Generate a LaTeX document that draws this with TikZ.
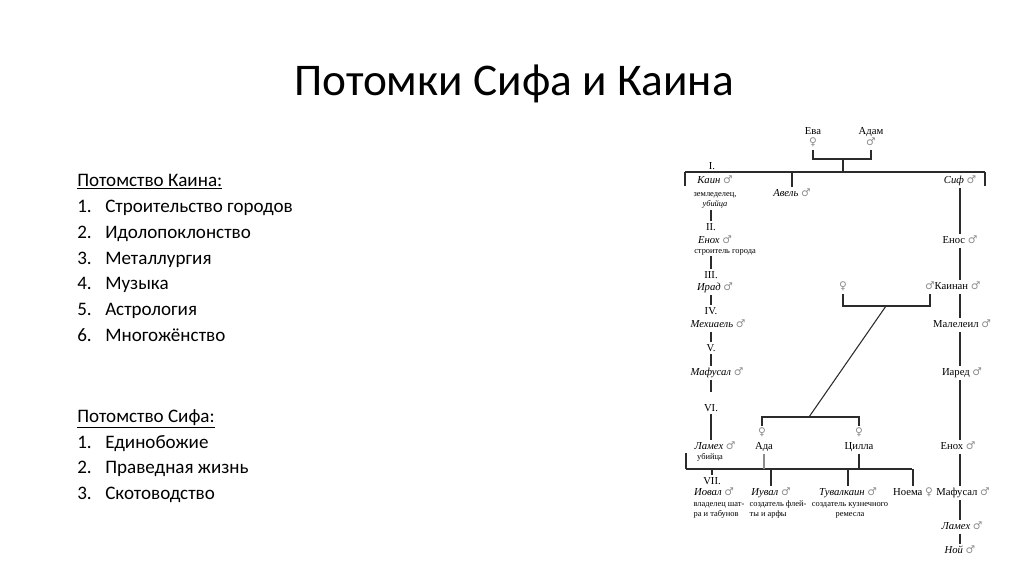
\documentclass[tikz,border=0pt]{standalone}
\usepackage{fontspec}
\setmainfont{Carlito}
\newfontfamily\treefont{Liberation Serif}
\newfontfamily\signfont{DejaVu Sans}
\usetikzlibrary{positioning}
\definecolor{linegray}{HTML}{2B2B2B}
\definecolor{signgray}{HTML}{8C8C8C}
\newcommand{\male}{{\signfont\color{signgray}♂}}
\newcommand{\female}{{\signfont\color{signgray}♀}}
\newcommand{\num}[1]{\makebox[21pt][l]{#1}}

\begin{document}
\begin{tikzpicture}[
  x=0.75pt, y=-0.75pt,
  title/.style={font=\fontsize{34}{40}\selectfont, anchor=base, inner sep=0pt},
  listline/.style={font=\fontsize{14.3}{17}\selectfont, anchor=base west, inner sep=0pt},
  person/.style={font=\treefont\fontsize{8}{9}\selectfont, inner sep=1pt,
                 text height=6pt, text depth=2pt},
  iperson/.style={person, font=\treefont\itshape\fontsize{8}{9}\selectfont},
  note/.style={font=\treefont\fontsize{6.3}{7.5}\selectfont, inner sep=0.5pt, align=center},
  gen/.style={font=\treefont\fontsize{8}{9}\selectfont, inner sep=1pt,
              text height=6pt, text depth=1pt},
  link/.style={draw=linegray, line width=0.8pt},
  tick/.style={draw=linegray, line width=1.6pt},
]
  \useasboundingbox (0,0) rectangle (1024,574);

  \node[title] (title) at (514,96) {Потомки Сифа и Каина};

  % left column: two lists
  \node[listline] (kainhead) at (77,186) {\underline{Потомство Каина:}};
  \node[listline] (kain1) at (77,212) {\num{1.}Строительство городов};
  \node[listline] (kain2) at (77,238) {\num{2.}Идолопоклонство};
  \node[listline] (kain3) at (77,264) {\num{3.}Металлургия};
  \node[listline] (kain4) at (77,289) {\num{4.}Музыка};
  \node[listline] (kain5) at (77,315) {\num{5.}Астрология};
  \node[listline] (kain6) at (77,341) {\num{6.}Многожёнство};

  \node[listline] (sifhead) at (77,422) {\underline{Потомство Сифа:}};
  \node[listline] (sif1) at (77,448) {\num{1.}Единобожие};
  \node[listline] (sif2) at (77,473) {\num{2.}Праведная жизнь};
  \node[listline] (sif3) at (77,499) {\num{3.}Скотоводство};

  % parents
  \node[person] (eva)      at (813,132) {Ева};
  \node[person] (evasign)  at (813,143) {\female};
  \node[person] (adam)     at (871,132) {Адам};
  \node[person] (adamsign) at (871,143) {\male};
  \coordinate (parents) at (843,159);
  \coordinate (kids)    at (843,172);
  \coordinate (kidsL)   at (685,172);
  \coordinate (kidsR)   at (985,172);
  \coordinate (kidsLend) at (685,186);
  \coordinate (kidsRend) at (985,186);
  \draw[link] (evasign.south) |- (parents) -| (adamsign.south);
  \draw[link] (parents) -- (kids);
  \draw[link] (kidsL) -- (kidsR);
  \draw[tick] (kidsL) -- (kidsLend);
  \draw[tick] (kidsR) -- (kidsRend);

  % first generation
  \node[gen] (g1) at (712,166) {I.};
  \node[iperson] (cain) at (715,181) {Каин \male};
  \node[note, anchor=north] (cainnote) at (715,189) {\strut земледелец,\\\textit{убийца}};
  \node[iperson] (abel) at (792,194) {Авель \male};
  \draw[link] (abel.north |- kids) -- (abel.north);
  \node[iperson] (sif) at (960,181) {Сиф \male};

  % line of Cain
  \node[gen] (g2) at (711,227) {II.};
  \draw[link] (g2.north |- cainnote.south) -- (g2.north);
  \node[iperson] (enoch) at (715,241) {Енох \male};
  \node[note] (enochnote) at (725,252) {строитель города};
  \node[gen] (g3) at (711,275) {III.};
  \draw[link] (g3.north |- enochnote.south) -- (g3.north);
  \node[iperson] (irad) at (715,288) {Ирад \male};
  \node[gen] (g4) at (711,311) {IV.};
  \draw[link] (g4.north |- irad.south) -- (g4.north);
  \node[iperson] (mehujael) at (718,325) {Мехиаель \male};
  \node[gen] (g5) at (711,348) {V.};
  \draw[link] (g5.north |- mehujael.south) -- (g5.north);
  \node[iperson] (methusael) at (717,373) {Мафусал \male};
  \draw[link] (g5.south) -- (g5.south |- methusael.north);
  \node[gen] (g6) at (711,408) {VI.};
  \draw[link, shorten >=7pt] (g6.north |- methusael.south) -- (g6.north);
  \node[iperson] (lamech) at (715,447) {Ламех \male};
  \draw[link] (g6.south) -- (g6.south |- lamech.north);
  \node[note] (lamechnote) at (710,457) {убийца};

  % line of Sif
  \node[person] (enos) at (960,241) {Енос \male};
  \draw[link] (sif.south) -- (sif.south |- enos.north);
  \node[person] (kenansign) at (930,287) {\male};
  \node[person, anchor=west] (kenan) at (933,287) {Каинан \male};
  \draw[link] (sif.south |- enos.south) -- (sif.south |- kenan.north);
  \node[person] (mahalalel) at (962,325) {Малелеил \male};
  \draw[link] (sif.south |- kenan.south) -- (sif.south |- mahalalel.north);
  \node[person] (jared) at (962,373) {Иаред \male};
  \draw[link] (sif.south |- mahalalel.south) -- (sif.south |- jared.north);
  \node[person] (enochs) at (958,447) {Енох \male};
  \draw[link] (sif.south |- jared.south) -- (sif.south |- enochs.north);
  \node[person] (methuselah) at (963,493) {Мафусал \male};
  \draw[link] (sif.south |- enochs.south) -- (sif.south |- methuselah.north);
  \node[iperson] (lamechs) at (962,527) {Ламех \male};
  \draw[link] (sif.south |- methuselah.south) -- (sif.south |- lamechs.north);
  \node[iperson] (noah) at (960,551) {Ной \male};
  \draw[link] (sif.south |- lamechs.south) -- (sif.south |- noah.north);

  % wives
  \node[person] (wifesign) at (843,287) {\female};
  \coordinate (wed)   at (886,306);
  \coordinate (wives) at (809,417);
  \draw[link] (wifesign.south) |- (wed) -| (kenansign.south);
  \draw[link] (wed) -- (wives);
  \node[person] (adasign)    at (762,433) {\female};
  \node[person] (zillahsign) at (859,433) {\female};
  \draw[link] (adasign.north) |- (wives) -| (zillahsign.north);
  \node[person] (ada)    at (764,447) {Ада};
  \node[person] (zillah) at (859,447) {Цилла};

  % seventh generation
  \coordinate (sonsLtop) at (686,453);
  \coordinate (sonsL)    at (686,469);
  \coordinate (sonsR)    at (912,469);
  \draw[tick] (sonsLtop) -- (sonsL);
  \draw[link] (sonsL) -- (sonsR);
  \draw[link, draw=signgray] (ada.south) -- (ada.south |- sonsL);
  \draw[link] (zillah.south) -- (zillah.south |- sonsL);
  \node[gen] (g7) at (712,481) {VII.};
  \draw[link] (g7.north |- sonsL) -- (g7.north);
  \node[iperson] (jabal) at (714,493) {Иовал \male};
  \node[note, align=left, anchor=north] (jabalnote) at (719,499) {\strut владелец шат-\\ра и табунов};
  \node[iperson] (jubal) at (771,493) {Иувал \male};
  \draw[link] (jubal.north |- sonsL) -- (jubal.north);
  \node[note, align=left, anchor=north] (jubalnote) at (778,499) {\strut создатель флей-\\ты и арфы};
  \node[iperson] (tubal) at (848,493) {Тувалкаин \male};
  \draw[link] (tubal.north |- sonsL) -- (tubal.north);
  \node[note, anchor=north] (tubalnote) at (850,499) {\strut создатель кузнечного\\ремесла};
  \node[person] (naamah) at (913,493) {Ноема \female};
  \draw[link] (naamah.north |- sonsR) -- (naamah.north);
\end{tikzpicture}
\end{document}
